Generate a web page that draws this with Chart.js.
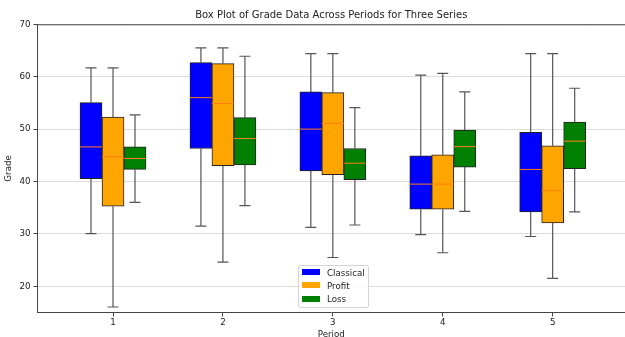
<!DOCTYPE html>
<html>
<head>
<meta charset="utf-8">
<script src="https://cdn.jsdelivr.net/npm/chart.js@4.4.0/dist/chart.umd.min.js"></script>
<style>
  html, body { margin: 0; padding: 0; background: #fff; }
  #wrap { position: relative; width: 625px; height: 337px; }
  #legend {
    position: absolute; left: 298px; top: 265px; width: 71px; height: 43px;
    box-sizing: border-box; border: 1px solid #d4d4d4; border-radius: 2px;
    background: rgba(255, 255, 255, 0.85);
    font: 8.7px 'DejaVu Sans', sans-serif; color: #222;
  }
  #legend .item { position: absolute; left: 3px; height: 13px; line-height: 13px; white-space: nowrap; }
  #legend .sw { display: inline-block; width: 18px; height: 6px; vertical-align: middle; margin-right: 7px; margin-top: -2px; }
</style>
</head>
<body>
<div id="wrap">
  <canvas id="boxChart" width="625" height="337"></canvas>
  <div id="legend"></div>
</div>
<script>
const periods = [1, 2, 3, 4, 5];
const yTicks = [20, 30, 40, 50, 60, 70];
const seriesNames = ['Classical', 'Profit', 'Loss'];
const seriesColors = ['#0000ff', '#ffa500', '#008000'];

// five-number summaries, one array per statistic
const classicalLow = [30.05, 31.5, 31.25, 29.85, 29.5];
const classicalQ1 = [40.55, 46.3, 42.0, 34.7, 34.2];
const classicalMed = [46.6, 56.0, 50.0, 39.5, 42.3];
const classicalQ3 = [55.05, 62.7, 57.1, 44.9, 49.4];
const classicalHigh = [61.7, 65.5, 64.4, 60.3, 64.4];

const profitLow = [16.05, 24.6, 25.5, 26.4, 21.5];
const profitQ1 = [35.3, 43.0, 41.3, 34.7, 32.1];
const profitMed = [44.75, 54.9, 51.1, 39.5, 38.25];
const profitQ3 = [52.3, 62.5, 56.95, 45.1, 46.8];
const profitHigh = [61.7, 65.5, 64.4, 60.65, 64.4];

const lossLow = [36.0, 35.4, 31.7, 34.3, 34.2];
const lossQ1 = [42.3, 43.15, 40.35, 42.75, 42.45];
const lossMed = [44.4, 48.2, 43.5, 46.65, 47.7];
const lossQ3 = [46.6, 52.2, 46.3, 49.8, 51.35];
const lossHigh = [52.7, 63.9, 54.1, 57.1, 57.8];

const stats = [
  { low: classicalLow, q1: classicalQ1, med: classicalMed, q3: classicalQ3, high: classicalHigh },
  { low: profitLow, q1: profitQ1, med: profitMed, q3: profitQ3, high: profitHigh },
  { low: lossLow, q1: lossQ1, med: lossMed, q3: lossQ3, high: lossHigh }
];

Chart.defaults.font.family = "'DejaVu Sans', sans-serif";
Chart.defaults.color = '#222';

// whiskers, caps and medians on top of the floating bars
const boxPlugin = {
  id: 'boxWhiskers',
  beforeDatasetsDraw(chart) {
    const ctx = chart.ctx;
    const y = chart.scales.y;
    ctx.save();
    ctx.strokeStyle = '#555';
    ctx.lineWidth = 1.2;
    stats.forEach((s, k) => {
      chart.getDatasetMeta(k).data.forEach((bar, i) => {
        const cap = bar.width / 4;
        ctx.beginPath();
        ctx.moveTo(bar.x, y.getPixelForValue(s.q3[i]));
        ctx.lineTo(bar.x, y.getPixelForValue(s.high[i]));
        ctx.moveTo(bar.x, y.getPixelForValue(s.q1[i]));
        ctx.lineTo(bar.x, y.getPixelForValue(s.low[i]));
        ctx.moveTo(bar.x - cap, y.getPixelForValue(s.high[i]));
        ctx.lineTo(bar.x + cap, y.getPixelForValue(s.high[i]));
        ctx.moveTo(bar.x - cap, y.getPixelForValue(s.low[i]));
        ctx.lineTo(bar.x + cap, y.getPixelForValue(s.low[i]));
        ctx.stroke();
      });
    });
    ctx.restore();
  },
  afterDatasetsDraw(chart) {
    const ctx = chart.ctx;
    const y = chart.scales.y;
    const area = chart.chartArea;
    ctx.save();
    ctx.strokeStyle = '#ff7f0e';
    ctx.lineWidth = 1;
    stats.forEach((s, k) => {
      chart.getDatasetMeta(k).data.forEach((bar, i) => {
        const py = y.getPixelForValue(s.med[i]);
        ctx.beginPath();
        ctx.moveTo(bar.x - bar.width / 2, py);
        ctx.lineTo(bar.x + bar.width / 2, py);
        ctx.stroke();
      });
    });
    // top spine
    ctx.strokeStyle = '#444';
    ctx.beginPath();
    ctx.moveTo(area.left, area.top + 0.5);
    ctx.lineTo(area.right, area.top + 0.5);
    ctx.stroke();
    ctx.restore();
  }
};

new Chart(document.getElementById('boxChart'), {
  type: 'bar',
  data: {
    datasets: seriesNames.map((name, k) => ({
      label: name,
      data: periods.map((p, i) => ({ x: p, y: [stats[k].q1[i], stats[k].q3[i]] })),
      backgroundColor: seriesColors[k],
      borderColor: '#222',
      borderWidth: 1,
      borderSkipped: false,
      barThickness: 22
    }))
  },
  options: {
    responsive: false,
    animation: false,
    layout: { padding: 0 },
    plugins: {
      legend: { display: false },
      tooltip: { enabled: false },
      title: {
        display: true,
        text: 'Box Plot of Grade Data Across Periods for Three Series',
        fullSize: false,
        font: { size: 10, weight: 'normal' },
        color: '#222',
        padding: { top: 9, bottom: 3.3 }
      }
    },
    scales: {
      x: {
        type: 'linear',
        min: 0.313,
        max: 5.658,
        offset: false,
        afterBuildTicks: s => { s.ticks = periods.map(v => ({ value: v })); },
        afterFit: s => { s.height = 24.5; },
        ticks: { font: { size: 8.7 }, padding: 1, maxRotation: 0, color: '#222' },
        grid: { display: true, offset: false, drawOnChartArea: false, tickLength: 4, color: '#444' },
        border: { color: '#444', width: 1 },
        title: { display: true, text: 'Period', font: { size: 8.7 }, color: '#222', padding: { top: 0, bottom: -3 } }
      },
      y: {
        min: 15,
        max: 70,
        afterBuildTicks: s => { s.ticks = yTicks.map(v => ({ value: v })); },
        afterFit: s => { s.width = 37.5; },
        ticks: { font: { size: 8.7 }, padding: 3, color: '#222' },
        grid: { color: '#dcdcdc', tickColor: '#444', tickLength: 4 },
        border: { color: '#444', width: 1 },
        title: { display: true, text: 'Grade', font: { size: 8.7 }, color: '#222', padding: { top: 4, bottom: 0 } }
      }
    }
  },
  plugins: [boxPlugin]
});

// legend box inside the plot, as html text
const legend = document.getElementById('legend');
seriesNames.forEach((name, k) => {
  const item = document.createElement('div');
  item.className = 'item';
  item.style.top = (0.5 + k * 13.3) + 'px';
  item.innerHTML = '<span class="sw" style="background:' + seriesColors[k] + '"></span>' + name;
  legend.appendChild(item);
});
</script>
</body>
</html>
